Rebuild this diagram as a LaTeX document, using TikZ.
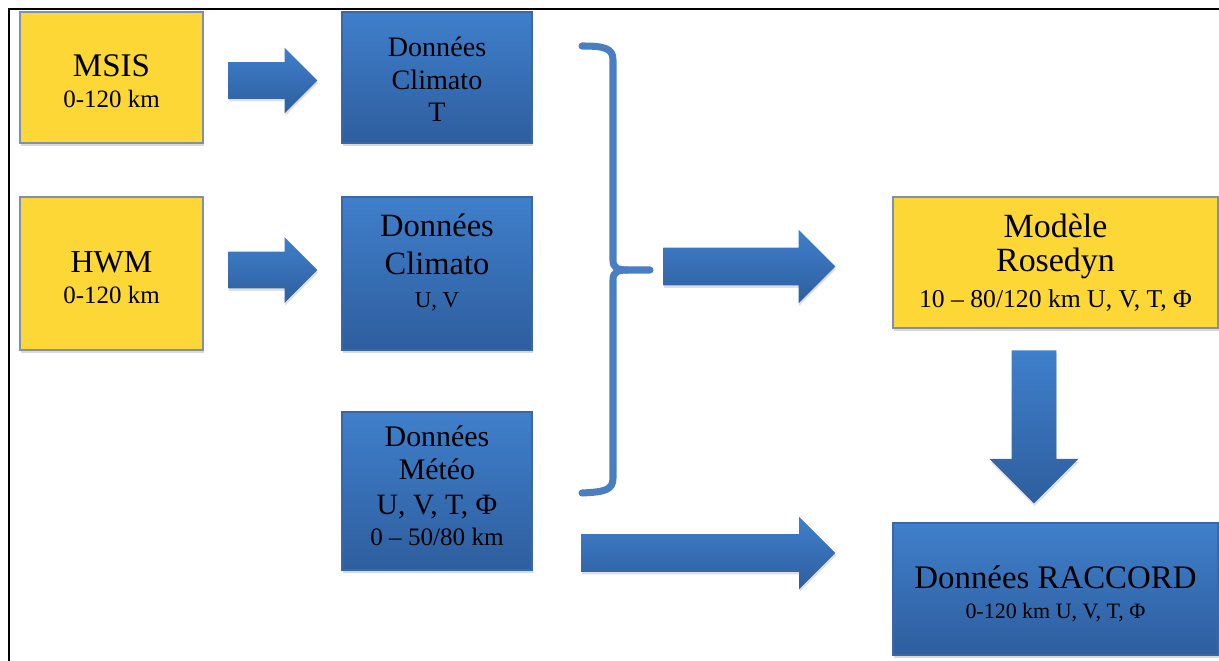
\documentclass[tikz,border=0pt]{standalone}
\usepackage{fontspec}
\setmainfont{Liberation Serif}
\usepackage{xcolor}
\usepackage{tikz}
\usetikzlibrary{shapes.arrows,shadows}
\definecolor{ModYellow}{HTML}{FDD735}
\definecolor{ModEdge}{HTML}{7F90AE}
\definecolor{DatTop}{HTML}{3F7FCB}
\definecolor{DatBot}{HTML}{2E5E9E}
\definecolor{DatEdge}{HTML}{3868A8}
\definecolor{BraceBlue}{HTML}{4A7EC2}
\newcommand\fsz[2]{\fontsize{#1}{#2}\selectfont}

\begin{document}
\begin{tikzpicture}[x=1cm,y=1cm,
  modbox/.style={draw=ModEdge,line width=0.6pt,fill=ModYellow,align=center,inner sep=0pt,
    drop shadow={shadow xshift=0.4pt,shadow yshift=-1.8pt,opacity=.3}},
  datbox/.style={draw=DatEdge,line width=0.6pt,top color=DatTop,bottom color=DatBot,align=center,inner sep=0pt,
    drop shadow={shadow xshift=0.4pt,shadow yshift=-1.8pt,opacity=.3}},
  flowarrow/.style={single arrow,single arrow head extend=#1,anchor=tail,top color=DatTop,bottom color=DatBot,
    drop shadow={shadow xshift=0.4pt,shadow yshift=-1.5pt,opacity=.25}}]
\path[use as bounding box] (0,0) rectangle (24.38,13.22);
\draw[line width=1.15pt] (0.18,0) -- (0.18,13.04) -- (24.38,13.04);
\node[modbox,minimum width=3.66cm,minimum height=2.62cm,font=\fsz{18.8}{17.6}] (msis) at (2.23,11.67)
  {\mbox{}\\[-1pt]MSIS\\{\fsz{14.2}{16}0-120 km}};
\node[modbox,minimum width=3.66cm,minimum height=3.06cm,font=\fsz{18.2}{17.6}] (hwm) at (2.23,7.75)
  {\mbox{}\\[-1pt]HWM\\{\fsz{14.2}{16}0-120 km}};
\node[datbox,minimum width=3.80cm,minimum height=2.62cm,font=\fsz{16}{18.5}] (climT) at (8.74,11.67)
  {\mbox{}\\[-5pt]Données\\Climato\\T};
\node[datbox,minimum width=3.80cm,minimum height=3.06cm,font=\fsz{18.5}{21.6}] (climUV) at (8.74,7.75)
  {Données\\Climato\\[-2.6pt]{\fsz{13}{16}U, V}\\[-7pt]\mbox{}};
\node[datbox,minimum width=3.80cm,minimum height=3.16cm,font=\fsz{17}{18.8}] (meteo) at (8.74,3.40)
  {Données\\Météo\\[1.1pt]{\fsz{16.8}{19}U, V, T, Φ}\\[-1.2pt]{\fsz{14.3}{17}0 – 50/80 km}\\[-13pt]\mbox{}};
\node[modbox,minimum width=6.50cm,minimum height=2.62cm,font=\fsz{19.3}{19.6}] (rosedyn) at (21.11,7.97)
  {Modèle\\Rosedyn\\[0.8pt]{\fsz{14.6}{19}10 – 80/120 km U, V, T, Φ}};
\node[datbox,minimum width=6.50cm,minimum height=2.64cm,font=\fsz{18.7}{17}] (raccord) at (21.11,1.44)
  {\mbox{}\\[1.2pt]Données RACCORD\\{\fsz{12.5}{17}0-120 km U, V, T, Φ}};
\node[flowarrow=0.29cm,inner sep=0.36cm,minimum height=1.78cm] (msisarr) at (4.56,11.61) {};
\node[flowarrow=0.29cm,inner sep=0.36cm,minimum height=1.78cm] (hwmarr) at (4.56,7.82) {};
\node[flowarrow=0.36cm,inner sep=0.37cm,minimum height=3.44cm] (climarr) at (13.26,7.89) {};
\node[flowarrow=0.35cm,inner sep=0.37cm,minimum height=5.08cm] (meteoarr) at (11.62,2.16) {};
\node[flowarrow=0.44cm,inner sep=0.44cm,shape border rotate=270,minimum height=3.06cm] (modarr) at (20.68,6.22) {};
\draw[BraceBlue,line width=4pt,line cap=round,line join=round]
  (11.64,12.30) .. controls (12.10,12.30) and (12.26,12.25) .. (12.26,12.02) -- (12.26,8.02)
  .. controls (12.26,7.86) and (12.35,7.82) .. (12.55,7.82) -- (13.00,7.82);
\draw[BraceBlue,line width=4pt,line cap=round,line join=round]
  (12.55,7.82) .. controls (12.35,7.82) and (12.26,7.78) .. (12.26,7.62) -- (12.26,3.66)
  .. controls (12.26,3.42) and (12.10,3.38) .. (11.64,3.36);
\end{tikzpicture}
\end{document}
